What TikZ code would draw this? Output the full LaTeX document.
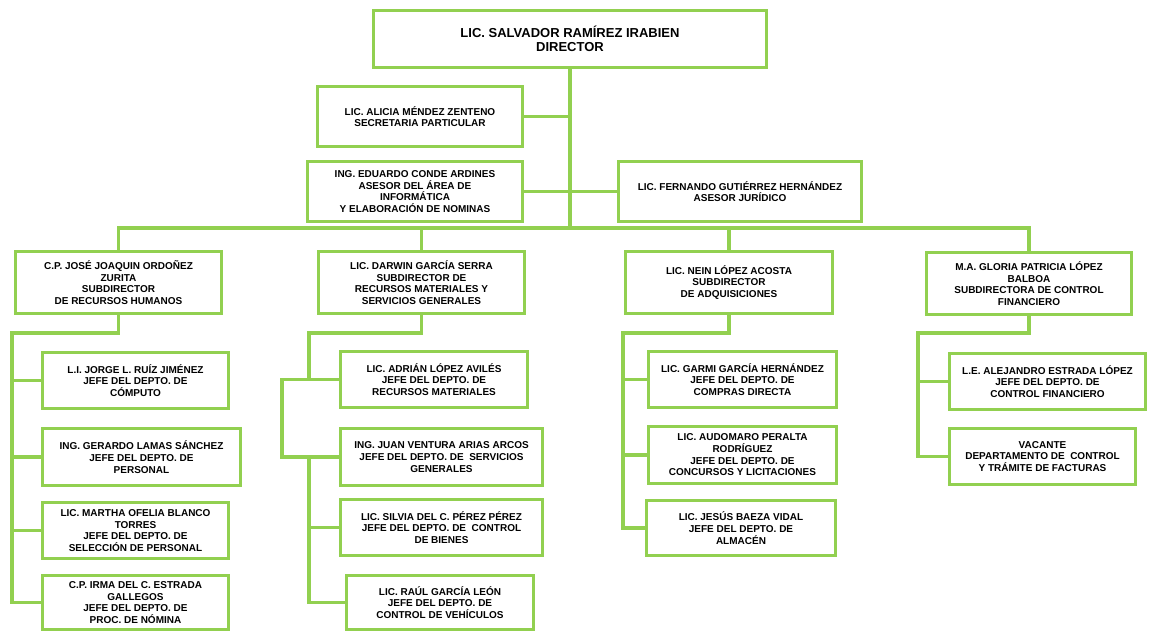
\documentclass[tikz,border=0pt]{standalone}
\usepackage{fontspec}
\setmainfont{Liberation Sans}
\definecolor{orggreen}{HTML}{92D050}

\begin{document}
\begin{tikzpicture}[x=1pt, y=-1pt,
    puesto/.style 2 args={draw=orggreen, line width=3pt, fill=white, align=center,
      inner sep=0pt, font=\bfseries\fontsize{10}{11.7}\selectfont,
      minimum width=#1pt, minimum height=#2pt},
    liga/.style={draw=orggreen, line width=3.2pt}]
    \useasboundingbox (0,0) rectangle (1149,632);
    \begin{scope}
      % direccion
      \node[puesto={393}{57}, font=\bfseries\fontsize{13}{14.5}\selectfont] (director) at (570,39)
        {LIC. SALVADOR RAMÍREZ IRABIEN\\DIRECTOR};
      \node[puesto={205}{60}] (secretaria) at (420,116.5)
        {LIC. ALICIA MÉNDEZ ZENTENO\\SECRETARIA PARTICULAR};
      \node[puesto={215}{60}] (eduardo) at (415,191.5)
        {ING. EDUARDO CONDE ARDINES\\ASESOR DEL ÁREA DE\\INFORMÁTICA\\Y ELABORACIÓN DE NOMINAS};
      \node[puesto={243}{60}] (fernando) at (740,191.5)
        {LIC. FERNANDO GUTIÉRREZ HERNÁNDEZ\\ASESOR JURÍDICO};

      % subdirecciones
      \node[puesto={206}{62}] (jose) at (118.5,282.5)
        {C.P. JOSÉ JOAQUIN ORDOÑEZ\\ZURITA\\SUBDIRECTOR\\DE RECURSOS HUMANOS};
      \node[puesto={206}{62}] (darwin) at (421.5,282.5)
        {LIC. DARWIN GARCÍA SERRA\\SUBDIRECTOR DE\\RECURSOS MATERIALES Y\\SERVICIOS GENERALES};
      \node[puesto={207}{62}] (nein) at (729,282.5)
        {LIC. NEIN LÓPEZ ACOSTA\\SUBDIRECTOR\\DE ADQUISICIONES};
      \node[puesto={205}{62}] (gloria) at (1029,283.5)
        {M.A. GLORIA PATRICIA LÓPEZ\\BALBOA\\SUBDIRECTORA DE CONTROL\\FINANCIERO};

      % departamentos
      \node[puesto={186}{56}] (jorge) at (135.5,380.5)
        {L.I. JORGE L. RUÍZ JIMÉNEZ\\JEFE DEL DEPTO. DE\\CÓMPUTO};
      \node[puesto={198}{57}] (gerardo) at (141.5,457)
        {ING. GERARDO LAMAS SÁNCHEZ\\JEFE DEL DEPTO. DE\\PERSONAL};
      \node[puesto={186}{56}] (martha) at (135.5,530.5)
        {LIC. MARTHA OFELIA BLANCO\\TORRES\\JEFE DEL DEPTO. DE\\SELECCIÓN DE PERSONAL};
      \node[puesto={186}{54}] (irma) at (135.5,602.5)
        {C.P. IRMA DEL C. ESTRADA\\GALLEGOS\\JEFE DEL DEPTO. DE\\PROC. DE NÓMINA};
      \node[puesto={187}{56}] (adrian) at (434,379.5)
        {LIC. ADRIÁN LÓPEZ AVILÉS\\JEFE DEL DEPTO. DE\\RECURSOS MATERIALES};
      \node[puesto={202}{57}] (juan) at (441.5,457)
        {ING. JUAN VENTURA ARIAS ARCOS\\JEFE DEL DEPTO. DE\ \ SERVICIOS\\GENERALES};
      \node[puesto={202}{56}] (silvia) at (441.5,527.5)
        {LIC. SILVIA DEL C. PÉREZ PÉREZ\\JEFE DEL DEPTO. DE\ \ CONTROL\\DE BIENES};
      \node[puesto={187}{54}] (raul) at (440,602.5)
        {LIC. RAÚL GARCÍA LEÓN\\JEFE DEL DEPTO. DE\\CONTROL DE VEHÍCULOS};
      \node[puesto={188}{56}] (garmi) at (742.5,379.5)
        {LIC. GARMI GARCÍA HERNÁNDEZ\\JEFE DEL DEPTO. DE\\COMPRAS DIRECTA};
      \node[puesto={188}{57}] (audomaro) at (742.5,455)
        {LIC. AUDOMARO PERALTA\\RODRÍGUEZ\\JEFE DEL DEPTO. DE\\CONCURSOS Y LICITACIONES};
      \node[puesto={189}{55}] (jesus) at (741,528)
        {LIC. JESÚS BAEZA VIDAL\\JEFE DEL DEPTO. DE\\ALMACÉN};
      \node[puesto={196}{56}] (alejandro) at (1047.5,381.5)
        {L.E. ALEJANDRO ESTRADA LÓPEZ\\JEFE DEL DEPTO. DE\\CONTROL FINANCIERO};
      \node[puesto={186}{56}] (vacante) at (1042.5,456.5)
        {VACANTE\\DEPARTAMENTO DE\ \ CONTROL\\Y TRÁMITE DE FACTURAS};

      \coordinate (bus) at (570,228);
      \coordinate (joserail) at (12,333);
      \coordinate (darwinrail) at (309,333);
      \coordinate (darwinloop) at (282,380);
      \coordinate (neinrail) at (623,333);
      \coordinate (gloriarail) at (918,333);

      \draw[liga] (director.south) -- (bus);
      \draw[liga] (secretaria.east) -- (secretaria.east -| bus);
      \draw[liga] (eduardo.east) -- (fernando.west);
      \draw[liga] (jose.north) |- (bus) -| (gloria.north);
      \foreach \s in {darwin, nein}
        \draw[liga] (\s.north) -- (\s.north |- bus);

      \draw[liga] (jose.south) |- (joserail) |- (irma.west);
      \foreach \c in {jorge, gerardo, martha}
        \draw[liga] (\c.west) -- (\c.west -| joserail);

      \draw[liga] (darwin.south) |- (darwinrail) |- (adrian.west);
      \draw[liga] (adrian.west) -- (adrian.west -| darwinloop) |- (juan.west);
      \draw[liga] (juan.west -| darwinrail) |- (raul.west);
      \draw[liga] (silvia.west) -- (silvia.west -| darwinrail);

      \draw[liga] (nein.south) |- (neinrail) |- (jesus.west);
      \foreach \c in {garmi, audomaro}
        \draw[liga] (\c.west) -- (\c.west -| neinrail);

      \draw[liga] (gloria.south) |- (gloriarail) |- (vacante.west);
      \draw[liga] (alejandro.west) -- (alejandro.west -| gloriarail);
    \end{scope}
  \end{tikzpicture}
\end{document}
